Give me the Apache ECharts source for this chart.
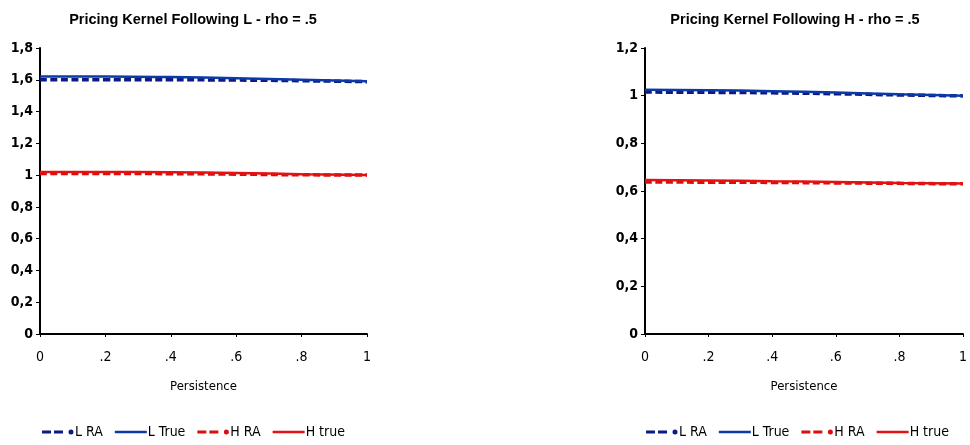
<!DOCTYPE html>
<html><head><meta charset="utf-8">
<script src="https://cdn.jsdelivr.net/npm/echarts@6/dist/echarts.min.js"></script>
<style>html,body{margin:0;padding:0;background:#fff}#c{width:970px;height:445px}</style>
</head><body><div id="c"></div>
<script>
const persistence = [0, 0.2, 0.4, 0.6, 0.8, 1];
const leftLRA   = [1.600, 1.600, 1.600, 1.598, 1.594, 1.588];
const leftLTrue = [1.620, 1.620, 1.617, 1.610, 1.600, 1.590];
const leftHRA   = [1.010, 1.010, 1.009, 1.006, 1.002, 1.000];
const leftHTrue = [1.020, 1.020, 1.018, 1.013, 1.006, 1.000];
const rightLRA   = [1.015, 1.014, 1.012, 1.008, 1.003, 0.999];
const rightLTrue = [1.025, 1.023, 1.019, 1.013, 1.006, 1.000];
const rightHRA   = [0.638, 0.637, 0.636, 0.634, 0.632, 0.630];
const rightHTrue = [0.646, 0.644, 0.641, 0.638, 0.634, 0.631];
const titles = ['Pricing Kernel Following L - rho = .5', 'Pricing Kernel Following H - rho = .5'];
const seriesNames = ['L RA', 'L True', 'H RA', 'H true'];
const xTicks = {0:'0', 0.2:'.2', 0.4:'.4', 0.6:'.6', 0.8:'.8', 1:'1'};

const FONT = "'DejaVu Sans Condensed','Liberation Sans Narrow','Arial Narrow','Liberation Sans',Arial,sans-serif";
const FONT2 = "'Liberation Sans',Arial,sans-serif";
const pair = ys => persistence.map((x, i) => [x, ys[i]]);
const styles = [
  {color:'#0d1a86', type:[7,3.5], width:3.5, dashed:true},
  {color:'#0b3aa6', type:'solid', width:2.5, dashed:false},
  {color:'#e00b0b', type:[7,3.5], width:3.5, dashed:true},
  {color:'#e31212', type:'solid', width:2.5, dashed:false}
];
// legend icons drawn in a 32x10 box; tiny corner squares fix the bounding box
const corners = 'M0,0h0.01v0.01h-0.01z M31.99,9.99h0.01v0.01h-0.01z ';
const dashedIcon = 'path://' + corners + 'M0,3.5h9v3h-9z M12,3.5h9v3h-9z M26.5,5a2.5,2.5 0 1,0 5,0a2.5,2.5 0 1,0 -5,0z';
const solidIcon  = 'path://' + corners + 'M0,3.7h32v2.6h-32z';
const grids = [{left:40, top:48, width:327, height:286}, {left:645, top:48, width:322, height:286}];
const yMax = [1.8, 1.2];
const data = [[leftLRA, leftLTrue, leftHRA, leftHTrue], [rightLRA, rightLTrue, rightHRA, rightHTrue]];
const centers = [188, 790];

const chart = echarts.init(document.getElementById('c'), null, {renderer:'canvas'});
const series = [];
data.forEach((set, g) => {
  set.forEach((ys, k) => {
    series.push({
      name: seriesNames[k], type:'line', xAxisIndex:g, yAxisIndex:g,
      data: pair(ys), symbol:'none', smooth:true, z: k % 2 === 0 ? 2 : 3,
      lineStyle: {color:styles[k].color, type:styles[k].type, width:styles[k].width},
      itemStyle: {color:styles[k].color}
    });
  });
});
chart.setOption({
  animation:false,
  title: titles.map((t, g) => ({text:t, left:centers[g], top:7, textAlign:'center',
    textStyle:{fontFamily:FONT2, fontSize:14.5, fontWeight:'bold', color:'#000'}})),
  legend: [0,1].map(g => ({
    data: seriesNames.map((n, k) => ({name:n, icon: styles[k].dashed ? dashedIcon : solidIcon,
      itemStyle:{color:styles[k].color}})),
    left: g === 0 ? 37 : 641, top:420, width:330, itemWidth:32, itemHeight:10, itemGap:12,
    textStyle:{fontFamily:FONT, fontSize:14, color:'#000', padding:[0,0,0,-4]}, selectedMode:false})),
  grid: grids,
  xAxis: [0,1].map(g => ({type:'value', gridIndex:g, min:0, max:1, interval:0.2,
    name:'Persistence', nameLocation:'middle', nameGap:46,
    nameTextStyle:{fontFamily:FONT, fontSize:13, color:'#000'},
    axisLine:{lineStyle:{color:'#000', width:2}},
    axisTick:{show:true, length:3, lineStyle:{color:'#000', width:1}},
    axisLabel:{fontFamily:FONT, fontSize:14, color:'#000', margin:16,
      formatter: v => xTicks[Math.round(v*10)/10] ?? String(v)},
    splitLine:{show:false}})),
  yAxis: [0,1].map(g => ({type:'value', gridIndex:g, min:0, max:yMax[g], interval:0.2,
    axisLine:{show:true, lineStyle:{color:'#000', width:2}},
    axisTick:{show:true, length:4, lineStyle:{color:'#000', width:1}},
    axisLabel:{fontFamily:FONT, fontSize:14, fontWeight:'bold', color:'#000', margin:7,
      formatter: v => String(Math.round(v*10)/10).replace('.', ',')},
    splitLine:{show:false}})),
  series: series
});
</script></body></html>
